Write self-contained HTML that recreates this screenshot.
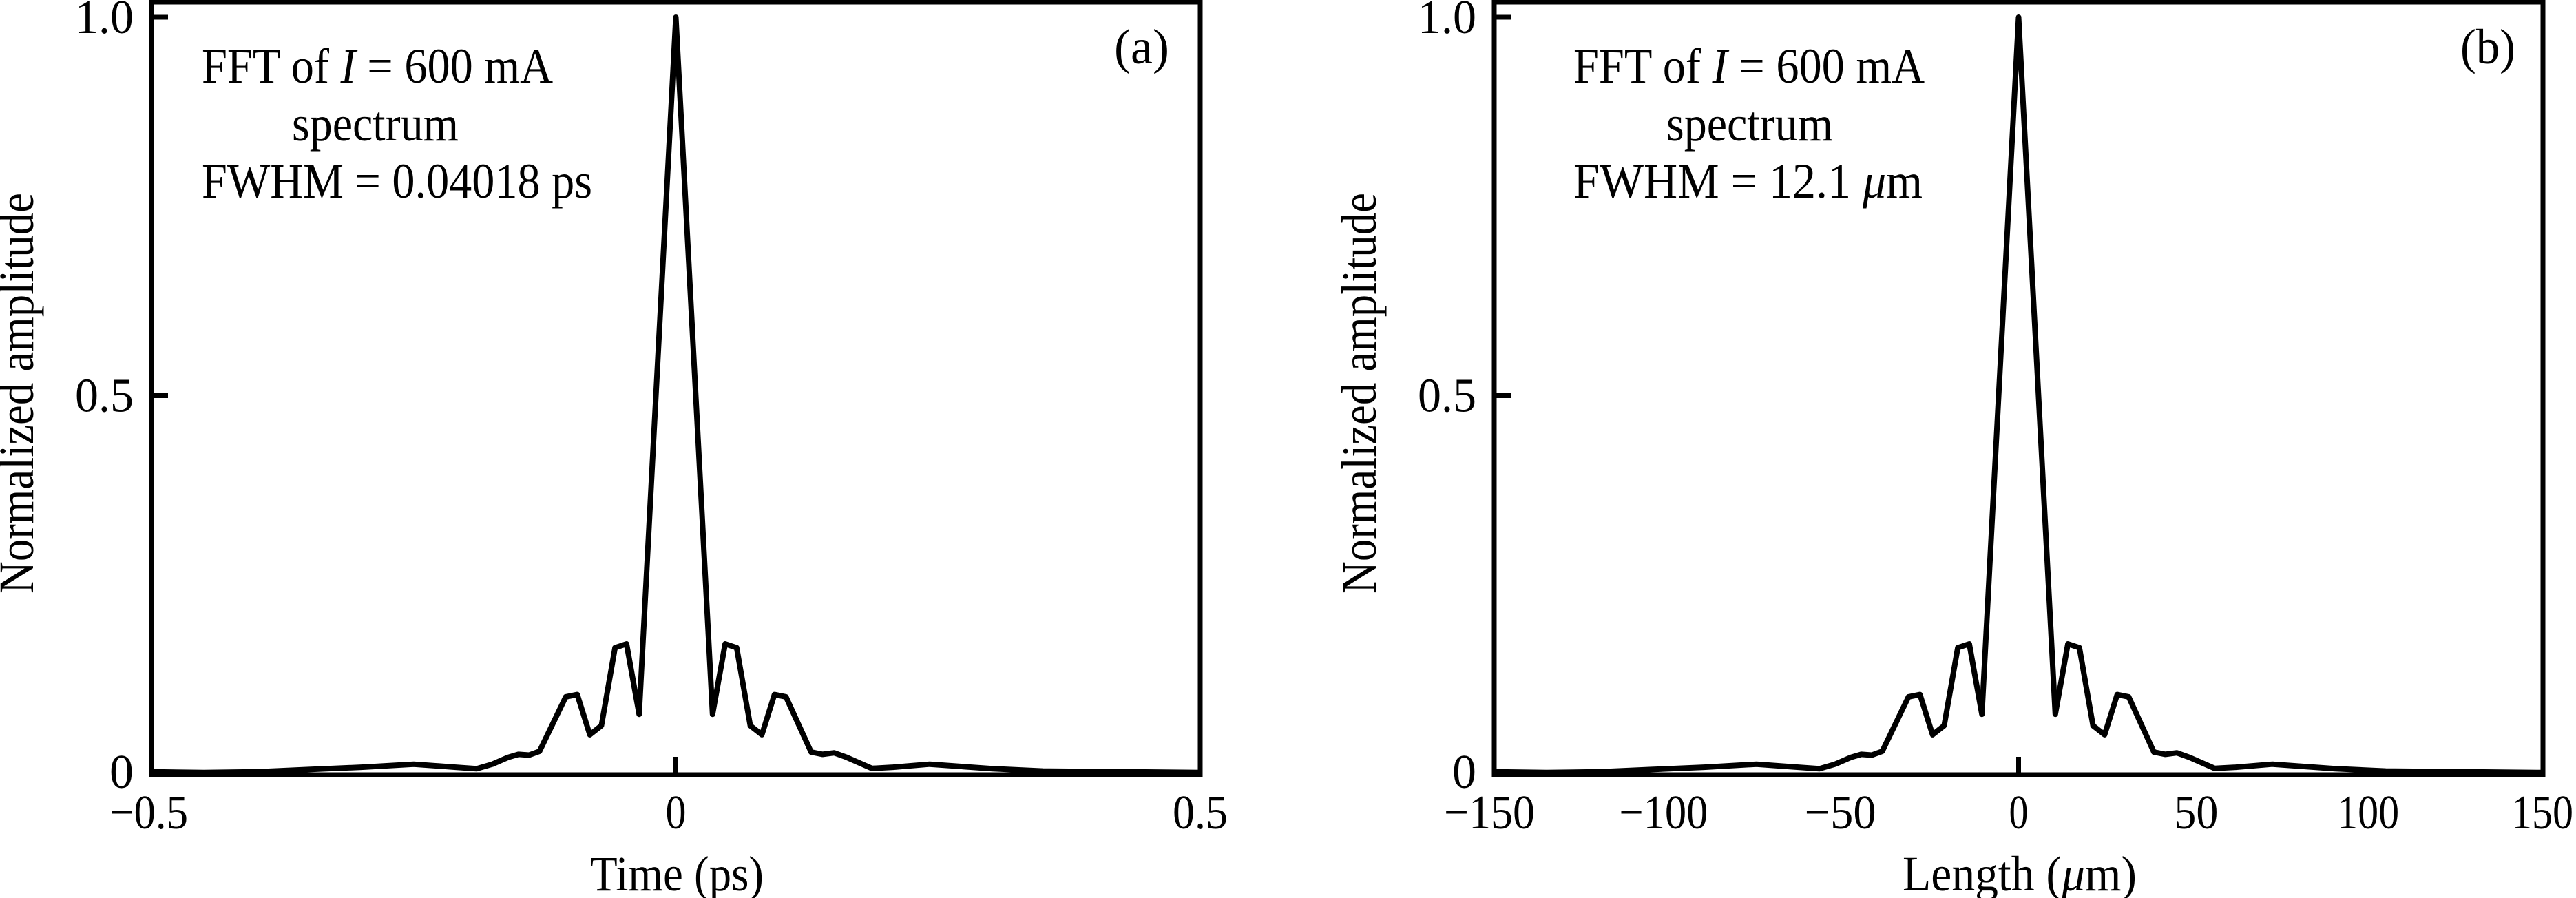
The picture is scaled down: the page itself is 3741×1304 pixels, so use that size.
<!DOCTYPE html>
<html><head><meta charset="utf-8"><style>
html,body{margin:0;padding:0;background:#fff}
svg{display:block}
text{font-family:"Liberation Serif",serif;fill:#000}
</style></head><body>
<svg id="fig" width="3741" height="1304" viewBox="0 0 3741 1304" xmlns="http://www.w3.org/2000/svg">
<g id="pa"></g>
<g id="pb"></g>
</svg>
<script>
// Panel (a) data: time (ps) vs normalized amplitude
const timeA = [-0.5,-0.45,-0.4,-0.35,-0.3,-0.25,-0.21,-0.19,-0.175,-0.16,-0.15,-0.14,-0.13,-0.105,-0.094,-0.082,-0.071,-0.058,-0.047,-0.035,0,0.035,0.047,0.058,0.071,0.082,0.094,0.105,0.129,0.14,0.151,0.163,0.187,0.207,0.242,0.302,0.35,0.5];
const ampA = [0.003,0.002,0.003,0.006,0.009,0.013,0.009,0.007,0.013,0.022,0.026,0.025,0.03,0.102,0.105,0.052,0.064,0.167,0.172,0.079,1.0,0.079,0.172,0.167,0.064,0.052,0.105,0.102,0.029,0.026,0.028,0.022,0.0075,0.009,0.013,0.007,0.004,0.002];
const xTicksA = [-0.5,0,0.5];
const xTickLabelsA = ["\u22120.5","0","0.5"];
// Panel (b) data: length (um) vs normalized amplitude
const lenB = [-150,-135,-120,-105,-90,-75,-63,-57,-52.5,-48,-45,-42,-39,-31.5,-28.2,-24.6,-21.3,-17.4,-14.1,-10.5,0,10.5,14.1,17.4,21.3,24.6,28.2,31.5,38.7,42,45.3,48.9,56.1,62.1,72.6,90.6,105,150];
const ampB = [0.003,0.002,0.003,0.006,0.009,0.013,0.009,0.007,0.013,0.022,0.026,0.025,0.03,0.102,0.105,0.052,0.064,0.167,0.172,0.079,1.0,0.079,0.172,0.167,0.064,0.052,0.105,0.102,0.029,0.026,0.028,0.022,0.0075,0.009,0.013,0.007,0.004,0.002];
const xTicksB = [-150,-100,-50,0,50,100,150];
const xTickLabelsB = ["\u2212150","\u2212100","\u221250","0","50","100","150"];
const yTicks = [0,0.5,1.0];
const yTickLabels = ["0","0.5","1.0"];

const NS="http://www.w3.org/2000/svg";
function mk(parent,tag,attrs){const e=document.createElementNS(NS,tag);for(const k in attrs)e.setAttribute(k,attrs[k]);parent.appendChild(e);return e;}

function panel(g,o){
  const L=o.L,R=o.R,T=3,B=1125,y0=1124,y1=25;
  const sx=v=>L+(v-o.xmin)/(o.xmax-o.xmin)*(R-L);
  const sy=v=>y0-(v)*(y0-y1);
  const pts=o.xs.map((x,i)=>sx(x).toFixed(1)+","+sy(o.ys[i]).toFixed(1)).join(" ");
  const c=mk(g,"polyline",{points:pts,fill:"none",stroke:"#000","stroke-width":8,"stroke-linejoin":"round"});
  
  
  const f=mk(g,"rect",{x:L,y:T,width:R-L,height:B-T,fill:"none",stroke:"#000","stroke-width":7});
  
  
  yTicks.forEach((v,i)=>{
    if(v>0){const t=mk(g,"line",{x1:L,x2:L+24,y1:sy(v),y2:sy(v),stroke:"#000","stroke-width":7});
      
      }
    const lab=mk(g,"text",{x:L-26,y:(v===0?sy(v)+20:sy(v)+23),"font-size":70,"text-anchor":"end"});
    lab.textContent=yTickLabels[i];
    
    
    if(yTickLabels[i].length===3){lab.setAttribute('textLength',85);lab.setAttribute('lengthAdjust','spacingAndGlyphs');}
  });
  o.xt.forEach((v,i)=>{
    if(v===0){const t=mk(g,"line",{x1:sx(v),x2:sx(v),y1:B,y2:B-26,stroke:"#000","stroke-width":7});
      
      }
    const lab=mk(g,"text",{x:sx(v)+o.xlOff[i],y:1203,"font-size":70,"text-anchor":"middle",textLength:o.xlW[i],lengthAdjust:"spacingAndGlyphs"});
    lab.textContent=o.xl[i];
    
    
  });
  const xt=mk(g,"text",{x:o.xtx,y:1293,"font-size":72,"text-anchor":"middle",textLength:o.xtw,lengthAdjust:"spacingAndGlyphs"});
  xt.innerHTML=o.xtitle;
  
  
  const yt=mk(g,"text",{x:0,y:0,"font-size":72,"text-anchor":"middle",textLength:582,lengthAdjust:"spacingAndGlyphs",transform:"translate("+o.ytx+",571) rotate(-90)"});
  yt.textContent="Normalized amplitude";
  
  
  const a1=mk(g,"text",{x:o.ax,y:120,"font-size":72,textLength:510,lengthAdjust:"spacingAndGlyphs"});
  a1.innerHTML='FFT of <tspan font-style="italic">I</tspan> = 600 mA';
  
  
  const a2=mk(g,"text",{x:o.sx,y:204,"font-size":72,textLength:242,lengthAdjust:"spacingAndGlyphs"});
  a2.textContent="spectrum";
  
  
  const a3=mk(g,"text",{x:o.ax,y:287,"font-size":72,textLength:o.fw,lengthAdjust:"spacingAndGlyphs"});
  a3.innerHTML=o.fwhm;
  
  
  const pl=mk(g,"text",{x:o.plx,y:92,"font-size":72,textLength:80,lengthAdjust:"spacingAndGlyphs"});
  pl.textContent=o.plabel;
  
  
}
panel(document.getElementById('pa'),{L:220,R:1743,xmin:-0.5,xmax:0.5,xs:timeA,ys:ampA,xt:xTicksA,xl:xTickLabelsA,
  xlOff:[-4,0,0],xlW:[114,30,80],xtitle:"Time (ps)",xtx:983,xtw:252,ytx:48,ax:293,sx:424,
  fw:567,fwhm:"FWHM = 0.04018 ps",plx:1618,plabel:"(a)"});
panel(document.getElementById('pb'),{L:2170,R:3693,xmin:-150,xmax:150,xs:lenB,ys:ampB,xt:xTicksB,xl:xTickLabelsB,
  xlOff:[-7,-8,-5,0,4,0,-1],xlW:[132,129,104,28,64,90,90],xtitle:'Length (<tspan font-style="italic">\u03bc</tspan>m)',xtx:2933,xtw:340,ytx:1998,ax:2285,sx:2420,
  fw:507,fwhm:'FWHM = 12.1 <tspan font-style="italic">\u03bc</tspan>m',plx:3573,plabel:"(b)"});
</script>
</body></html>
